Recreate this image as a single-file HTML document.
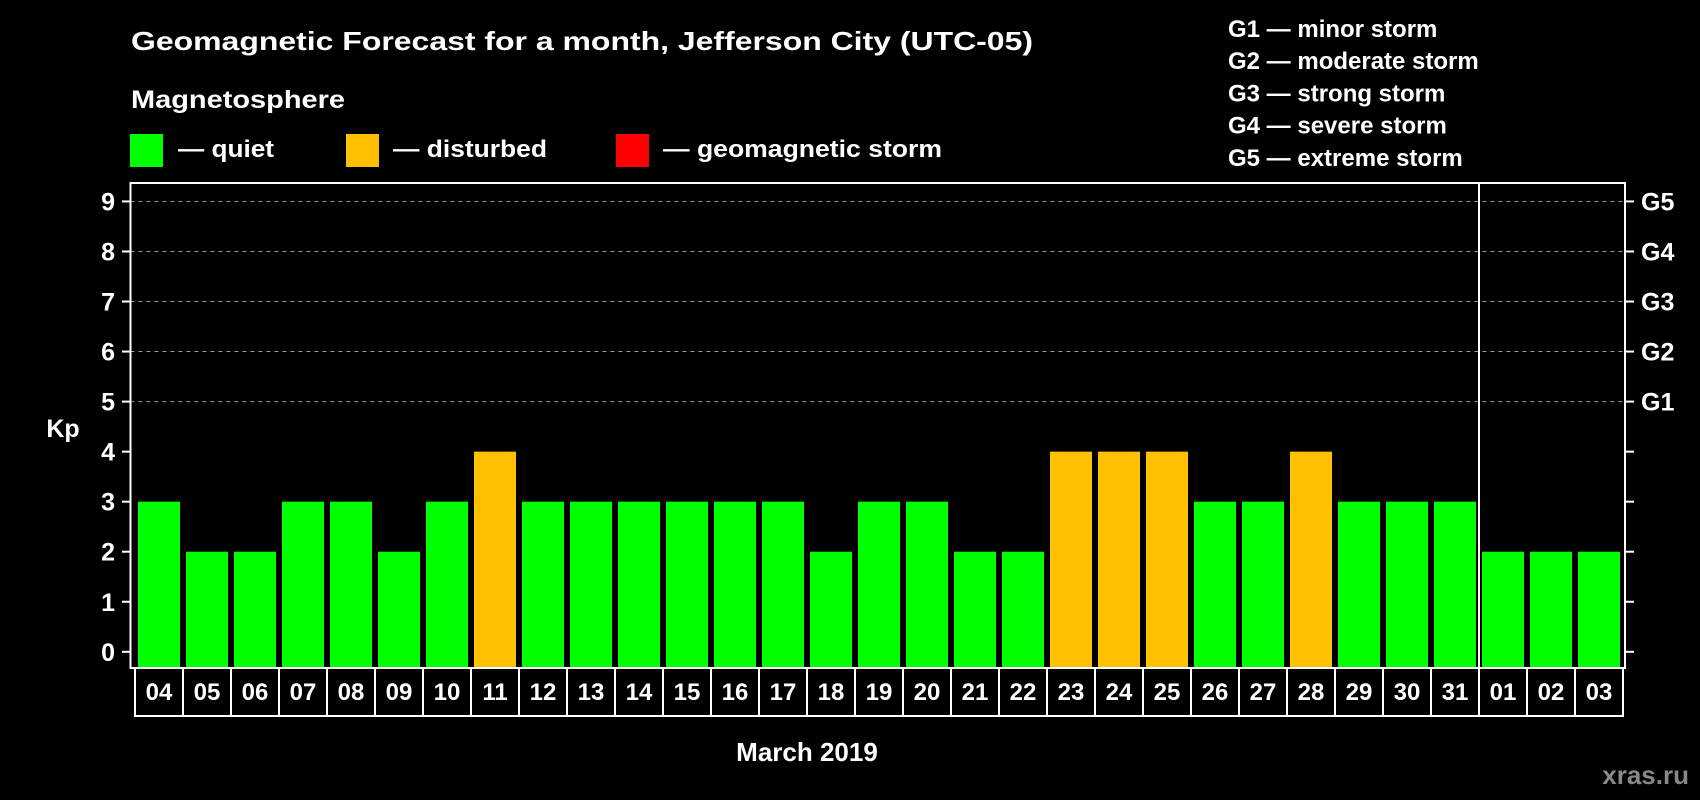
<!DOCTYPE html>
<html><head><meta charset="utf-8"><style>
html,body{margin:0;padding:0;background:#000;}
svg{display:block;font-family:"Liberation Sans",Arial,sans-serif;font-weight:bold;}
</style></head><body>
<svg id="chart" width="1700" height="800" viewBox="0 0 1700 800">
<rect x="0" y="0" width="1700" height="800" fill="#000"/>
<text x="131" y="50" fill="#fff" font-size="26" textLength="902" lengthAdjust="spacingAndGlyphs">Geomagnetic Forecast for a month, Jefferson City (UTC-05)</text>
<text x="131" y="108" fill="#fff" font-size="25" textLength="214" lengthAdjust="spacingAndGlyphs">Magnetosphere</text>
<g>
<rect x="130" y="134" width="33" height="33" fill="#00ff00"/>
<text x="178" y="157" fill="#fff" font-size="24" textLength="96" lengthAdjust="spacingAndGlyphs">— quiet</text>
</g>
<g>
<rect x="346" y="134" width="33" height="33" fill="#ffc000"/>
<text x="393" y="157" fill="#fff" font-size="24" textLength="154" lengthAdjust="spacingAndGlyphs">— disturbed</text>
</g>
<g>
<rect x="616" y="134" width="33" height="33" fill="#ff0000"/>
<text x="663" y="157" fill="#fff" font-size="24" textLength="279" lengthAdjust="spacingAndGlyphs">— geomagnetic storm</text>
</g>
<g id="glegend"></g>
<g id="grid"></g>
<g id="bars"></g>
<g id="axes"></g>
<text x="63" y="437" fill="#fff" font-size="25" text-anchor="middle">Kp</text>
<text x="807" y="761" fill="#fff" font-size="26" text-anchor="middle">March 2019</text>
<text x="1689" y="784" fill="#888" font-size="26" text-anchor="end">xras.ru</text>
</svg>
<script>
const days = ["04","05","06","07","08","09","10","11","12","13","14","15","16","17","18","19","20","21","22","23","24","25","26","27","28","29","30","31","01","02","03"];
const kpValues = [3,2,2,3,3,2,3,4,3,3,3,3,3,3,2,3,3,2,2,4,4,4,3,3,4,3,3,3,2,2,2];
const yTicks = [0,1,2,3,4,5,6,7,8,9];
const gLabels = ["G1","G2","G3","G4","G5"];
const gLevels = [5,6,7,8,9];
const gDescriptions = ["G1 — minor storm","G2 — moderate storm","G3 — strong storm","G4 — severe storm","G5 — extreme storm"];
const monthBreakIndex = 28;

const NS = "http://www.w3.org/2000/svg";
const plotL = 130.5, plotR = 1625, plotT = 183, plotB = 668;
const y0 = 651.8, unit = 50.04;
const barStart = 138, step = 48, barW = 42;
function y(v){ return y0 - unit * v; }
function xBar(i){ return barStart + step * i; }
function mk(tag, attrs, parent){
  const e = document.createElementNS(NS, tag);
  for (const k in attrs) e.setAttribute(k, attrs[k]);
  parent.appendChild(e);
  return e;
}
const grid = document.getElementById("grid");
const bars = document.getElementById("bars");
const axes = document.getElementById("axes");
const gl = document.getElementById("glegend");

gDescriptions.forEach((d, i) => {
  const t = mk("text", {x:1228, y:37 + 32.2*i, fill:"#fff", "font-size":24}, gl);
  
  
  t.textContent = d;
});

gLevels.forEach(v => {
  const l = mk("line", {x1:plotL, x2:plotR, y1:y(v), y2:y(v), stroke:"#999", "stroke-width":1, "stroke-dasharray":"4 4"}, grid);
  
  
});

kpValues.forEach((v, i) => {
  const r = mk("rect", {x:xBar(i), y:y(v), width:barW, height:plotB - 1 - y(v), fill: v >= 5 ? "#ff0000" : (v >= 4 ? "#ffc000" : "#00ff00")}, bars);
  
  
});

const frame = mk("rect", {x:plotL, y:plotT, width:plotR - plotL, height:plotB - plotT, fill:"none", stroke:"#fff", "stroke-width":2}, axes);


const divX = xBar(monthBreakIndex) - 3;
const div = mk("line", {x1:divX, x2:divX, y1:plotT, y2:plotB, stroke:"#fff", "stroke-width":2}, axes);



yTicks.forEach(v => {
  const t1 = mk("line", {x1:122, x2:plotL, y1:y(v), y2:y(v), stroke:"#fff", "stroke-width":2}, axes);
  
  
  const t2 = mk("line", {x1:plotR, x2:1634, y1:y(v), y2:y(v), stroke:"#fff", "stroke-width":2}, axes);
  
  
  const lab = mk("text", {x:115, y:y(v) + 9, fill:"#fff", "font-size":25, "text-anchor":"end"}, axes);
  
  
  lab.textContent = v;
});
gLevels.forEach((v, i) => {
  const lab = mk("text", {x:1641, y:y(v) + 9, fill:"#fff", "font-size":25}, axes);
  
  
  lab.textContent = gLabels[i];
});

const cellL = 135, cellT = 668, cellB = 716;
days.forEach((d, i) => {
  const cx = cellL + step * i;
  const c = mk("rect", {x:cx, y:cellT, width:step, height:cellB - cellT, fill:"none", stroke:"#fff", "stroke-width":2}, axes);
  
  
  const t = mk("text", {x:cx + step/2, y:700, fill:"#fff", "font-size":24, "text-anchor":"middle"}, axes);
  
  
  t.textContent = d;
});
</script>
</body></html>
